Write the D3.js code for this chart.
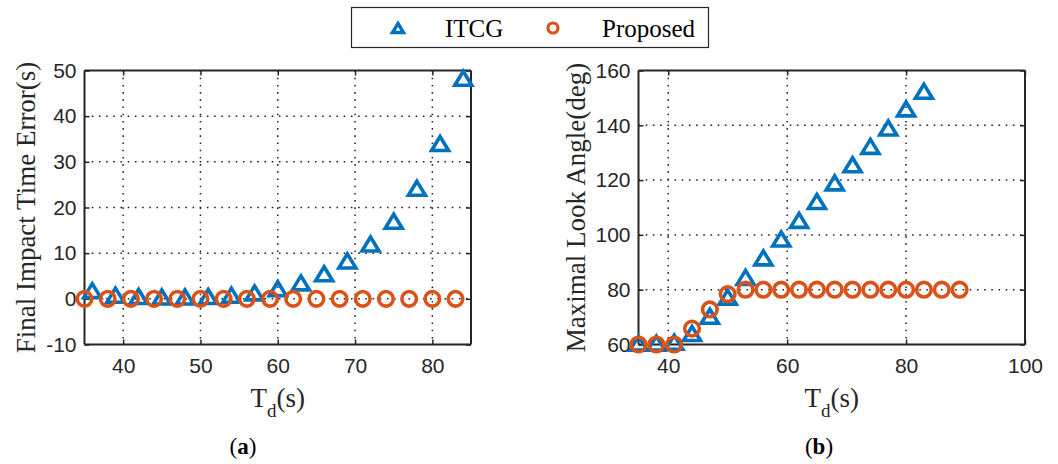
<!DOCTYPE html>
<html><head><meta charset="utf-8">
<script src="https://cdn.jsdelivr.net/npm/d3@7"></script>
<style>body{margin:0;background:#fff}svg{display:block}</style>
</head><body>
<script>
// ---- data ----
const errX_ITCG = [36,39,42,45,48,51,54,57,60,63,66,69,72,75,78,81,84];
const errY_ITCG = [1.8,0.8,0.5,0.4,0.4,0.5,0.8,1.3,2.2,3.5,5.5,8.3,12,17,24.2,34,48.3];
const errX_Prop = [35,38,41,44,47,50,53,56,59,62,65,68,71,74,77,80,83];
const errY_Prop = [0,0,0,0,0,0,0,0,0,0,0,0,0,0,0,0,0];
const angX_ITCG = [35,38,41,44,47,50,53,56,59,62,65,68,71,74,77,80,83];
const angY_ITCG = [60.5,60.5,60.8,64,70.3,77.3,84.5,91.6,98.5,105.3,112.2,119,125.6,132.3,139,146,152.4];
const angX_Prop = [35,38,41,44,47,50,53,56,59,62,65,68,71,74,77,80,83,86,89];
const angY_Prop = [60,60,60,65.8,72.8,78.4,80,80,80,80,80,80,80,80,80,80,80,80,80];
const ticksXa = [40,50,60,70,80];
const ticksYa = [-10,0,10,20,30,40,50];
const ticksXb = [40,60,80,100];
const ticksYb = [60,80,100,120,140,160];
const seriesNames = ["ITCG","Proposed"];

const W=1058,H=464;
const BLUE="#0072BD", ORANGE="#D95319", AX="#262626";
const svg=d3.select("body").append("svg").attr("width",W).attr("height",H);

function triPath(w,h){return `M0,${-h/2}L${w/2},${h/2}L${-w/2},${h/2}Z`;}

function panel(o){
  const g=svg.append("g");
  const x=d3.scaleLinear().domain(o.xd).range([o.x0,o.x1]);
  const y=d3.scaleLinear().domain(o.yd).range([o.y1,o.y0]);
  // grid
  g.selectAll(".gx").data(o.tx.filter(t=>t>o.xd[0]&&t<o.xd[1])).join("line")
    .attr("x1",d=>x(d)).attr("x2",d=>x(d)).attr("y1",o.y0).attr("y2",o.y1)
    .attr("stroke","#222").attr("stroke-width",1.5).attr("stroke-dasharray","1.6,5.6");
  g.selectAll(".gy").data(o.ty.filter(t=>t>o.yd[0]&&t<o.yd[1])).join("line")
    .attr("y1",d=>y(d)).attr("y2",d=>y(d)).attr("x1",o.x0).attr("x2",o.x1)
    .attr("stroke","#222").attr("stroke-width",1.5).attr("stroke-dasharray","1.6,5.6");
  // axes
  const fmt=d=>String(d);
  const ax=d3.axisBottom(x).tickValues(o.tx).tickSize(-5).tickPadding(14).tickFormat(fmt);
  const ay=d3.axisLeft(y).tickValues(o.ty).tickSize(-5).tickPadding(8).tickFormat(fmt);
  const ax2=d3.axisTop(x).tickValues(o.tx).tickSize(-5).tickFormat("");
  const ay2=d3.axisRight(y).tickValues(o.ty).tickSize(-5).tickFormat("");
  const style=sel=>{sel.selectAll("path").attr("stroke",AX).attr("stroke-width",2);
    sel.selectAll("line").attr("stroke",AX).attr("stroke-width",1.5);
    sel.selectAll("text").attr("fill",AX).style("font-family","'Liberation Sans',Arial,sans-serif").style("font-size","21px");};
  g.append("g").attr("transform",`translate(0,${o.y1})`).call(ax).call(style).call(s=>s.select(".domain").attr("d",`M${o.x0},0H${o.x1}`));
  g.append("g").attr("transform",`translate(${o.x0},0)`).call(ay).call(style).call(s=>s.select(".domain").attr("d",`M0,${o.y1}V${o.y0}`));
  g.append("g").attr("transform",`translate(0,${o.y0})`).call(ax2).call(style).call(s=>s.select(".domain").attr("d",`M${o.x0},0H${o.x1}`));
  g.append("g").attr("transform",`translate(${o.x1},0)`).call(ay2).call(style).call(s=>s.select(".domain").attr("d",`M0,${o.y1}V${o.y0}`));
  // markers
  g.selectAll(".tri").data(o.ax.map((v,i)=>[v,o.ay[i]])).join("path")
    .attr("d",triPath(17,14)).attr("transform",d=>`translate(${x(d[0])},${y(d[1])})`)
    .attr("fill","none").attr("stroke",BLUE).attr("stroke-width",3.6).attr("stroke-linejoin","miter");
  g.selectAll(".cir").data(o.bx.map((v,i)=>[v,o.by[i]])).join("circle")
    .attr("cx",d=>x(d[0])).attr("cy",d=>y(d[1])).attr("r",7.3)
    .attr("fill","none").attr("stroke",ORANGE).attr("stroke-width",3.6);
  // y title
  const cy=(o.y0+o.y1)/2;
  svg.append("text").attr("transform",`translate(${o.ytx},${cy}) rotate(-90)`)
    .attr("text-anchor","middle").style("font-family","'Liberation Serif','Times New Roman',serif")
    .style("font-size","27px").attr("fill",AX).text(o.ytitle);
  // x title
  const xt=svg.append("text").attr("x",(o.x0+o.x1)/2).attr("y",407).attr("text-anchor","middle")
    .style("font-family","'Liberation Serif','Times New Roman',serif").style("font-size","27px").attr("fill",AX);
  xt.append("tspan").text("T");
  xt.append("tspan").attr("dy",10).style("font-size","19px").text("d");
  xt.append("tspan").attr("dy",-10).text("(s)");
  // panel label
  const pl=svg.append("text").attr("x",o.plx).attr("y",454).attr("text-anchor","middle")
    .style("font-family","'Liberation Serif','Times New Roman',serif").style("font-size","23px").attr("fill","#000");
  pl.append("tspan").text("(");
  pl.append("tspan").style("font-weight","bold").text(o.pl);
  pl.append("tspan").text(")");
}

panel({xd:[35,85],yd:[-10,50],x0:84.5,x1:471,y0:70.5,y1:344.5,tx:ticksXa,ty:ticksYa,
  ax:errX_ITCG,ay:errY_ITCG,bx:errX_Prop,by:errY_Prop,ytitle:"Final Impact Time Error(s)",ytx:35,plx:243,pl:"a"});
panel({xd:[35,100],yd:[60,160],x0:638.5,x1:1025,y0:70.5,y1:344.5,tx:ticksXb,ty:ticksYb,
  ax:angX_ITCG,ay:angY_ITCG,bx:angX_Prop,by:angY_Prop,ytitle:"Maximal Look Angle(deg)",ytx:585,plx:819,pl:"b"});

// legend
const lg=svg.append("g");
lg.append("rect").attr("x",351.5).attr("y",7.5).attr("width",357).attr("height",40)
  .attr("fill","#fff").attr("stroke",AX).attr("stroke-width",1.2);
lg.append("path").attr("d",triPath(11,9)).attr("transform","translate(398,28)")
  .attr("fill","none").attr("stroke",BLUE).attr("stroke-width",3.4);
lg.append("circle").attr("cx",553).attr("cy",28).attr("r",5)
  .attr("fill","none").attr("stroke",ORANGE).attr("stroke-width",3.2);
lg.selectAll(".lt").data(seriesNames).join("text").attr("x",(d,i)=>i?602:445).attr("y",37)
  .style("font-family","'Liberation Serif','Times New Roman',serif").style("font-size","25px").attr("fill","#000").text(d=>d);
</script>
</body></html>
